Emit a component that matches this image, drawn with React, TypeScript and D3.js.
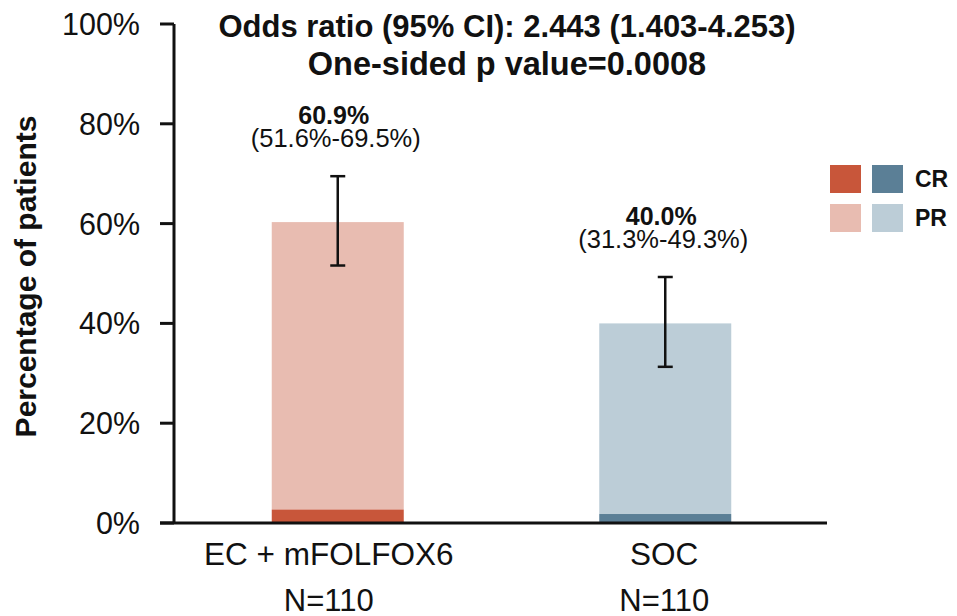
import { useEffect, useRef } from "react";
import * as d3 from "d3";

const WIDTH = 957;
const HEIGHT = 616;

// Data
const groups = ["EC + mFOLFOX6", "SOC"];
const groupN = ["N=110", "N=110"];
const crValues = [2.7, 1.8];
const prValues = [57.6, 38.2];
const orrValues = [60.9, 40.0];
const ciLower = [51.6, 31.3];
const ciUpper = [69.5, 49.3];
const yTicks = [0, 20, 40, 60, 80, 100];
const legendSeries = ["CR", "PR"];
const titleLines = [
  "Odds ratio (95% CI): 2.443 (1.403-4.253)",
  "One-sided p value=0.0008",
];

// colors: [CR, PR] per group
const GROUP_COLORS = [
  ["#c8563a", "#e8bcb1"],
  ["#5b7f96", "#bccdd7"],
];
const COLOR_AXIS = "#111111";
const FONT = "'Liberation Sans', Arial, Helvetica, sans-serif";

const PLOT = { left: 174, right: 829, top: 24, bottom: 523 };
const BAR_WIDTH = 132;
const LABEL_SHIFT = [-9, -1]; // category labels sit a bit left of the bar centre

export default function App() {
  const svgRef = useRef<SVGSVGElement>(null);

  useEffect(() => {
    const svg = d3.select(svgRef.current);
    svg.selectAll("*").remove();

    const x = d3
      .scalePoint<string>()
      .domain(groups)
      .range([PLOT.left, PLOT.right])
      .padding(0.5);

    const y = d3.scaleLinear().domain([0, 100]).range([PLOT.bottom, PLOT.top]);

    // Bars (CR stacked below PR)
    groups.forEach((g, i) => {
      const cx = x(g) ?? 0;
      const cr = crValues[i];
      const pr = prValues[i];
      svg
        .append("rect")
        .attr("x", cx - BAR_WIDTH / 2)
        .attr("width", BAR_WIDTH)
        .attr("y", y(cr + pr))
        .attr("height", y(cr) - y(cr + pr))
        .attr("fill", GROUP_COLORS[i][1]);
      svg
        .append("rect")
        .attr("x", cx - BAR_WIDTH / 2)
        .attr("width", BAR_WIDTH)
        .attr("y", y(cr))
        .attr("height", y(0) - y(cr))
        .attr("fill", GROUP_COLORS[i][0]);

      // error bar
      const lo = y(ciLower[i]);
      const hi = y(ciUpper[i]);
      svg
        .append("line")
        .attr("x1", cx)
        .attr("x2", cx)
        .attr("y1", lo)
        .attr("y2", hi)
        .attr("stroke", COLOR_AXIS)
        .attr("stroke-width", 2.5);
      [lo, hi].forEach((yy) => {
        svg
          .append("line")
          .attr("x1", cx - 7.5)
          .attr("x2", cx + 7.5)
          .attr("y1", yy)
          .attr("y2", yy)
          .attr("stroke", COLOR_AXIS)
          .attr("stroke-width", 2.5);
      });

      // value labels
      svg
        .append("text")
        .attr("x", cx - 4)
        .attr("y", hi - 52)
        .attr("text-anchor", "middle")
        .attr("font-size", "25px")
        .attr("font-weight", "bold")
        .attr("font-family", FONT)
        .attr("fill", "#111")
        .text(`${orrValues[i].toFixed(1)}%`);
      svg
        .append("text")
        .attr("x", cx - 2)
        .attr("y", hi - 29)
        .attr("text-anchor", "middle")
        .attr("font-size", "25.5px")
        .attr("font-family", FONT)
        .attr("fill", "#111")
        .text(`(${ciLower[i].toFixed(1)}%-${ciUpper[i].toFixed(1)}%)`);

      // category labels
      svg
        .append("text")
        .attr("x", cx + LABEL_SHIFT[i])
        .attr("y", 565)
        .attr("text-anchor", "middle")
        .attr("font-size", "31.5px")
        .attr("font-family", FONT)
        .attr("fill", "#111")
        .text(g);
      svg
        .append("text")
        .attr("x", cx + LABEL_SHIFT[i])
        .attr("y", 611)
        .attr("text-anchor", "middle")
        .attr("font-size", "31px")
        .attr("font-family", FONT)
        .attr("fill", "#111")
        .text(groupN[i]);
    });

    // Y axis
    svg
      .append("line")
      .attr("x1", PLOT.left)
      .attr("x2", PLOT.left)
      .attr("y1", y(100))
      .attr("y2", y(0))
      .attr("stroke", COLOR_AXIS)
      .attr("stroke-width", 3);
    yTicks.forEach((t) => {
      svg
        .append("line")
        .attr("x1", PLOT.left - 14)
        .attr("x2", PLOT.left)
        .attr("y1", y(t))
        .attr("y2", y(t))
        .attr("stroke", COLOR_AXIS)
        .attr("stroke-width", 3);
      svg
        .append("text")
        .attr("x", 140)
        .attr("y", y(t))
        .attr("dy", "0.36em")
        .attr("text-anchor", "end")
        .attr("font-size", "30.5px")
        .attr("font-family", FONT)
        .attr("fill", "#111")
        .text(`${t}%`);
    });

    // X axis
    svg
      .append("line")
      .attr("x1", PLOT.left - 14)
      .attr("x2", 827)
      .attr("y1", y(0))
      .attr("y2", y(0))
      .attr("stroke", COLOR_AXIS)
      .attr("stroke-width", 3);

    // Y axis title
    svg
      .append("text")
      .attr("transform", `translate(36,${(y(0) + y(100)) / 2 + 3}) rotate(-90)`)
      .attr("text-anchor", "middle")
      .attr("font-size", "30px")
      .attr("font-weight", "bold")
      .attr("font-family", FONT)
      .attr("fill", "#111")
      .text("Percentage of patients");

    // Title
    titleLines.forEach((line, i) => {
      svg
        .append("text")
        .attr("x", 507)
        .attr("y", 37 + i * 38)
        .attr("text-anchor", "middle")
        .attr("font-size", i === 0 ? "31px" : "32.5px")
        .attr("font-weight", "bold")
        .attr("font-family", FONT)
        .attr("fill", "#111")
        .text(line);
    });

    // Legend
    legendSeries.forEach((s, si) => {
      const ly = 165 + si * 39;
      GROUP_COLORS.forEach((cols, gi) => {
        svg
          .append("rect")
          .attr("x", 830 + gi * 42)
          .attr("y", ly)
          .attr("width", 31)
          .attr("height", 28)
          .attr("fill", cols[si]);
      });
      svg
        .append("text")
        .attr("x", 915)
        .attr("y", ly + 22)
        .attr("font-size", "23px")
        .attr("font-weight", "bold")
        .attr("font-family", FONT)
        .attr("fill", "#111")
        .text(s);
    });
  }, []);

  return (
    <svg
      ref={svgRef}
      width={WIDTH}
      height={HEIGHT}
      style={{ position: "absolute", left: 0, top: 0, background: "#fff" }}
    />
  );
}
